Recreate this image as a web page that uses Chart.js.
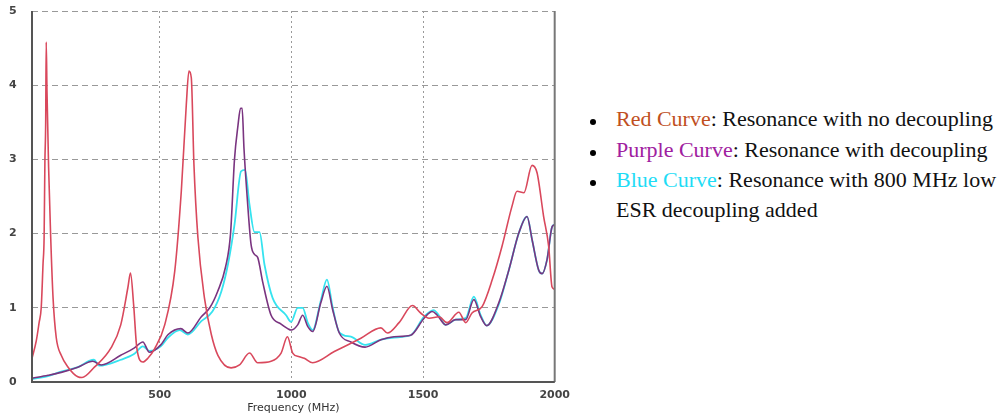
<!DOCTYPE html>
<html>
<head>
<meta charset="utf-8">
<script src="https://cdn.jsdelivr.net/npm/chart.js@4"></script>
<style>
  body { margin: 0; background: #fff; width: 1008px; height: 418px; overflow: hidden; position: relative; }
  #wrap { position: absolute; left: 0; top: 0; width: 577px; height: 418px; }
  .note { position: absolute; left: 616px; font-family: "Liberation Serif", "Times New Roman", serif; font-size: 22px; line-height: 30px; color: #111; white-space: nowrap; }
  .dot { position: absolute; left: 590px; width: 6px; height: 6px; border-radius: 50%; background: #000; }
</style>
</head>
<body>
<div id="wrap"><canvas id="resChart"></canvas></div>

<div class="dot" style="top:119px"></div>
<div class="note" style="top:104px"><span style="color:#c0501f">Red Curve</span>: Resonance with no decoupling</div>
<div class="dot" style="top:150px"></div>
<div class="note" style="top:135px"><span style="color:#a020a0">Purple Curve</span>: Resonance with decoupling</div>
<div class="dot" style="top:180px"></div>
<div class="note" style="top:165px"><span style="color:#1edcf6">Blue Curve</span>: Resonance with 800 MHz low<br>ESR decoupling added</div>

<script>
// impedance vs frequency, no decoupling
const redFreq = [15, 31, 42, 50, 57, 61, 64, 67, 69, 72, 78, 86, 95, 107, 126, 152, 189, 205, 252, 315, 352, 379, 389, 401, 413, 436, 455, 481, 519, 557, 582, 601, 611, 620, 630, 645, 670, 696, 721, 771, 803, 841, 872, 923, 961, 985, 1005, 1030, 1049, 1081, 1163, 1264, 1340, 1365, 1409, 1460, 1491, 1523, 1561, 1591, 1636, 1662, 1686, 1725, 1763, 1800, 1838, 1857, 1883, 1914, 1933, 1958, 1977, 1990, 2000];
const redImp = [0.32, 0.55, 0.8, 1.0, 1.6, 1.95, 2.97, 3.5, 4.58, 3.9, 2.9, 1.95, 1.13, 0.6, 0.36, 0.2, 0.07, 0.06, 0.2, 0.46, 0.77, 1.27, 1.47, 1.04, 0.46, 0.27, 0.32, 0.45, 0.77, 1.49, 2.57, 3.74, 4.19, 4.1, 2.93, 1.95, 1.13, 0.64, 0.36, 0.19, 0.23, 0.39, 0.26, 0.28, 0.39, 0.61, 0.39, 0.34, 0.32, 0.26, 0.41, 0.59, 0.73, 0.66, 0.8, 1.03, 0.93, 0.86, 0.88, 0.8, 0.94, 0.8, 0.93, 1.02, 1.38, 1.83, 2.37, 2.57, 2.55, 2.92, 2.82, 2.23, 1.83, 1.28, 1.25];

// with decoupling
const purpleFreq = [15, 76, 126, 189, 246, 278, 352, 404, 436, 461, 504, 532, 580, 607, 658, 690, 720, 750, 769, 784, 797, 807, 813, 820, 832, 847, 860, 872, 891, 923, 961, 986, 999, 1024, 1043, 1062, 1081, 1112, 1135, 1157, 1182, 1226, 1280, 1340, 1390, 1453, 1504, 1535, 1554, 1586, 1624, 1662, 1693, 1719, 1742, 1788, 1826, 1864, 1895, 1914, 1939, 1952, 1971, 1990, 2000];
const purpleImp = [0.05, 0.09, 0.13, 0.2, 0.28, 0.23, 0.36, 0.46, 0.54, 0.4, 0.5, 0.64, 0.72, 0.66, 0.88, 1.0, 1.22, 1.55, 2.0, 3.0, 3.45, 3.69, 3.69, 3.15, 2.5, 1.85, 1.72, 1.68, 1.35, 0.9, 0.78, 0.72, 0.7, 0.77, 0.9, 0.75, 0.68, 1.07, 1.29, 0.97, 0.66, 0.54, 0.47, 0.57, 0.61, 0.63, 0.86, 0.95, 0.9, 0.77, 0.84, 0.84, 1.11, 0.88, 0.76, 1.07, 1.51, 2.01, 2.23, 1.92, 1.51, 1.46, 1.65, 2.09, 2.12];

// 800 MHz low ESR decoupling added
const cyanFreq = [15, 76, 126, 189, 250, 270, 352, 404, 436, 461, 504, 532, 576, 607, 658, 700, 734, 760, 784, 809, 824, 841, 860, 879, 898, 929, 980, 999, 1024, 1043, 1062, 1081, 1112, 1135, 1157, 1182, 1226, 1280, 1340, 1390, 1453, 1504, 1540, 1560, 1586, 1624, 1662, 1693, 1719, 1742, 1788, 1826, 1864, 1895, 1914, 1939, 1952, 1971, 1990, 2000];
const cyanImp = [0.04, 0.08, 0.14, 0.2, 0.3, 0.22, 0.3, 0.38, 0.48, 0.42, 0.48, 0.6, 0.7, 0.64, 0.82, 0.95, 1.22, 1.6, 2.12, 2.84, 2.86, 2.39, 2.02, 2.02, 1.58, 1.13, 0.9, 0.81, 1.0, 1.0, 0.8, 0.7, 1.1, 1.38, 1.0, 0.67, 0.61, 0.5, 0.57, 0.6, 0.63, 0.88, 0.97, 0.9, 0.77, 0.84, 0.86, 1.15, 0.9, 0.76, 1.05, 1.51, 2.01, 2.23, 1.92, 1.51, 1.46, 1.65, 2.09, 2.12];

const xTicks = [500, 1000, 1500, 2000];
const yTicks = [0, 1, 2, 3, 4, 5];

const toPoints = (fs, vs) => fs.map((f, i) => ({ x: f, y: vs[i] }));

// solid frame on left, bottom and right of the plot
const framePlugin = {
  id: 'frame',
  afterDraw(chart) {
    const { ctx, chartArea: a } = chart;
    ctx.save();
    ctx.lineWidth = 2;
    ctx.strokeStyle = '#777';
    ctx.beginPath();
    ctx.moveTo(a.right, a.top);
    ctx.lineTo(a.right, a.bottom);
    ctx.stroke();
    ctx.strokeStyle = '#555';
    ctx.beginPath();
    ctx.moveTo(a.left, a.top);
    ctx.lineTo(a.left, a.bottom);
    ctx.lineTo(a.right, a.bottom);
    ctx.stroke();
    ctx.restore();
  }
};

const tickFont = { family: 'DejaVu Sans', size: 11, weight: 'bold' };

new Chart(document.getElementById('resChart'), {
  type: 'line',
  data: {
    datasets: [
      { label: 'Red', data: toPoints(redFreq, redImp), borderColor: '#d9485c', borderWidth: 1.6 },
      { label: 'Purple', data: toPoints(purpleFreq, purpleImp), borderColor: '#7a3480', borderWidth: 1.6 },
      { label: 'Blue', data: toPoints(cyanFreq, cyanImp), borderColor: '#35e3ef', borderWidth: 1.8 }
    ]
  },
  options: {
    responsive: true,
    maintainAspectRatio: false,
    animation: false,
    layout: { padding: { top: 11, right: 15, left: 9, bottom: 0 } },
    elements: {
      point: { radius: 0 },
      line: { tension: 0.25, cubicInterpolationMode: 'monotone' }
    },
    plugins: { legend: { display: false }, tooltip: { enabled: false } },
    scales: {
      x: {
        type: 'linear',
        min: 15,
        max: 2000,
        afterBuildTicks: axis => { axis.ticks = xTicks.map(v => ({ value: v })); },
        grid: { color: '#999', drawTicks: false, lineWidth: 1 },
        border: { display: false, dash: [2, 3] },
        ticks: { color: '#444', font: tickFont, padding: 7, maxRotation: 0, callback: v => String(v) },
        title: { display: true, text: 'Frequency (MHz)', color: '#333', font: { family: 'DejaVu Sans', size: 11 }, padding: { top: 0, bottom: 3 } },
        afterFit: axis => { axis.height = 36; }
      },
      y: {
        min: 0,
        max: 5,
        afterBuildTicks: axis => { axis.ticks = yTicks.map(v => ({ value: v })); },
        grid: { color: '#999', drawTicks: false, lineWidth: 1 },
        border: { display: false, dash: [6, 4] },
        ticks: { color: '#444', font: tickFont, padding: 0, crossAlign: 'far', callback: v => String(v) },
        afterFit: axis => { axis.width = 23; }
      }
    }
  },
  plugins: [framePlugin]
});
</script>
</body>
</html>
